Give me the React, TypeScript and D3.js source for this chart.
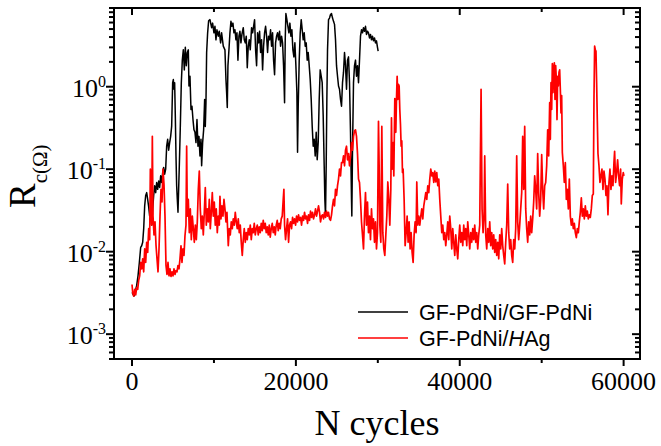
import React from "react";
import * as d3 from "d3";

const W = 661;
const H = 446;
const FRAME = { left: 114, right: 640, top: 8, bottom: 359 };

const xMajorTicks = [0, 20000, 40000, 60000];
const xMinorTicks = [10000, 30000, 50000];
const yDecadeTicks = [1e-3, 1e-2, 1e-1, 1];
const yDecadeExponents = ["-3", "-2", "-1", "0"];
const xTitle = "N cycles";
const legendNames = ["GF-PdNi/GF-PdNi", "GF-PdNi/HAg"];

// GF-PdNi/GF-PdNi : [N cycles, Rc (Ohm)]
const seriesPdNiPdNi: [number, number][] = [
  [0, 0.0032], [244, 0.0029], [406, 0.0033], [569, 0.0039], [731, 0.0051], [894, 0.0074], [1057, 0.0113], [1179, 0.0118],
  [1301, 0.013], [1423, 0.019], [1545, 0.036], [1667, 0.048], [1789, 0.052], [1911, 0.043], [2033, 0.035], [2154, 0.027],
  [2276, 0.03], [2398, 0.021], [2520, 0.033], [2642, 0.048], [2764, 0.063], [2886, 0.052], [3008, 0.069], [3130, 0.057],
  [3252, 0.072], [3374, 0.06], [3496, 0.083], [3618, 0.069], [3740, 0.091], [3862, 0.105], [3984, 0.087], [4106, 0.1],
  [4228, 0.19], [4350, 0.23], [4471, 0.17], [4593, 0.21], [4715, 0.25], [4837, 0.33], [4959, 1.12], [5041, 1.22],
  [5122, 0.93], [5203, 1.12], [5284, 0.44], [5366, 0.145], [5447, 0.063], [5528, 0.043], [5610, 0.03], [5691, 0.057],
  [5772, 0.11], [5894, 0.33], [6016, 1.12], [6138, 2.1], [6260, 2.8], [6382, 1.6], [6504, 3.0], [6626, 1.8],
  [6748, 2.6], [6870, 2.8], [6951, 1.02], [7073, 1.34], [7195, 0.53], [7317, 0.58], [7439, 0.4], [7561, 0.3],
  [7683, 0.28], [7805, 0.21], [7927, 0.4], [8049, 0.19], [8171, 0.25], [8293, 0.145], [8415, 0.23], [8496, 0.11],
  [8618, 0.21], [8740, 0.3], [8862, 0.7], [8943, 0.33], [9024, 0.64], [9106, 2.6], [9228, 4.5], [9350, 6.3],
  [9512, 6.5], [9715, 5.2], [9837, 5.9], [9999, 4.5], [10122, 5.4], [10244, 3.7], [10366, 4.9], [10528, 4.1],
  [10650, 4.7], [10813, 3.4], [10935, 4.5], [11138, 3.1], [11341, 2.8], [11463, 1.22], [11545, 0.85], [11626, 0.56],
  [11707, 1.8], [11829, 2.8], [11951, 4.5], [12073, 6.2], [12195, 5.4], [12317, 5.9], [12439, 4.5], [12561, 4.9],
  [12683, 3.7], [12805, 4.5], [12927, 2.1], [13049, 4.1], [13170, 4.7], [13292, 3.4], [13414, 4.3], [13577, 5.2],
  [13699, 3.7], [13821, 3.4], [13943, 4.1], [14065, 1.7], [14187, 3.1], [14309, 3.7], [14431, 2.8], [14593, 5.2],
  [14715, 4.5], [14837, 5.4], [14959, 6.5], [15081, 2.8], [15203, 1.8], [15325, 4.5], [15447, 3.4], [15569, 4.7],
  [15691, 2.6], [15813, 3.7], [15935, 1.6], [16057, 3.1], [16179, 4.5], [16301, 5.4], [16423, 4.1], [16545, 2.6],
  [16666, 4.1], [16788, 3.7], [16910, 4.9], [17032, 3.1], [17154, 4.5], [17276, 2.1], [17398, 1.4], [17520, 3.4],
  [17642, 4.1], [17764, 4.5], [17886, 3.7], [18008, 4.7], [18130, 3.1], [18252, 4.1], [18374, 3.4], [18496, 1.8],
  [18618, 0.64], [18699, 3.7], [18780, 7.7], [18902, 6.5], [19024, 5.4], [19146, 4.5], [19268, 5.9], [19390, 4.1],
  [19512, 4.9], [19634, 2.8], [19756, 2.3], [19878, 3.4], [20000, 1.8], [20122, 0.85], [20203, 0.16], [20284, 0.58],
  [20406, 2.1], [20528, 4.5], [20650, 6.5], [20772, 4.9], [20894, 3.7], [21016, 4.5], [21138, 3.1], [21260, 3.4],
  [21382, 2.1], [21504, 2.6], [21626, 1.8], [21748, 1.22], [21870, 0.7], [21992, 0.33], [22114, 0.19], [22236, 0.23],
  [22357, 0.145], [22479, 0.28], [22601, 0.13], [22723, 0.21], [22845, 0.7], [22967, 1.6], [23089, 1.34], [23211, 1.12],
  [23333, 0.44], [23455, 0.11], [23536, 0.043], [23617, 0.027], [23698, 0.11], [23780, 0.7], [23861, 2.8], [23983, 6.5],
  [24105, 6.8], [24227, 7.5], [24349, 7.7], [24471, 6.8], [24593, 6.2], [24715, 5.7], [24837, 3.7], [24959, 1.8],
  [25081, 1.34], [25203, 1.02], [25325, 0.93], [25447, 0.7], [25569, 0.58], [25691, 1.12], [25813, 1.5], [25935, 2.6],
  [26057, 1.8], [26179, 0.93], [26301, 2.1], [26423, 2.3], [26545, 1.12], [26666, 0.28], [26788, 0.043], [26829, 0.027],
  [26910, 0.17], [27032, 1.12], [27154, 1.8], [27276, 2.1], [27398, 1.34], [27520, 1.8], [27642, 1.12], [27764, 2.1],
  [27886, 4.1], [28008, 4.9], [28130, 4.5], [28252, 5.2], [28374, 4.7], [28496, 5.4], [28618, 4.3], [28740, 4.7],
  [28861, 4.5], [28983, 3.9], [29105, 4.3], [29227, 3.7], [29349, 4.1], [29471, 3.6], [29593, 3.9], [29715, 3.4],
  [29837, 3.6], [29959, 3.0], [30040, 2.7],
];

// GF-PdNi/HAg : [N cycles, Rc (Ohm)]
const seriesPdNiHAg: [number, number][] = [
  [0, 0.004], [81, 0.0032], [203, 0.0029], [325, 0.0035], [447, 0.003], [569, 0.0037], [691, 0.0035], [813, 0.0045],
  [935, 0.0051], [1057, 0.0074], [1179, 0.0062], [1301, 0.0082], [1423, 0.0057], [1545, 0.0108], [1667, 0.0074], [1789, 0.013],
  [1911, 0.0098], [2033, 0.019], [2154, 0.014], [2236, 0.1], [2317, 0.043], [2398, 0.021], [2479, 0.25], [2561, 0.027],
  [2683, 0.016], [2805, 0.023], [2927, 0.012], [3049, 0.0082], [3171, 0.0057], [3293, 0.0108], [3415, 0.027], [3537, 0.057],
  [3659, 0.04], [3781, 0.1], [3903, 0.065], [4024, 0.027], [4146, 0.0068], [4268, 0.0053], [4390, 0.0074], [4512, 0.0051],
  [4634, 0.0062], [4756, 0.005], [4878, 0.0057], [5000, 0.0051], [5122, 0.0062], [5244, 0.0053], [5366, 0.0059], [5488, 0.0057],
  [5610, 0.0068], [5732, 0.0062], [5854, 0.0082], [5976, 0.0118], [6097, 0.0074], [6219, 0.0108], [6341, 0.009], [6463, 0.0156],
  [6585, 0.021], [6667, 0.19], [6748, 0.027], [6870, 0.043], [6992, 0.017], [7114, 0.033], [7236, 0.014], [7358, 0.027],
  [7480, 0.019], [7602, 0.013], [7724, 0.021], [7846, 0.014], [7968, 0.023], [8089, 0.057], [8211, 0.095], [8333, 0.033],
  [8455, 0.019], [8577, 0.027], [8699, 0.016], [8821, 0.03], [8943, 0.06], [9065, 0.021], [9187, 0.033], [9309, 0.023],
  [9431, 0.043], [9553, 0.019], [9675, 0.03], [9797, 0.052], [9918, 0.027], [10040, 0.04], [10162, 0.021], [10284, 0.033],
  [10406, 0.017], [10528, 0.027], [10650, 0.021], [10732, 0.047], [10854, 0.025], [10976, 0.036], [11098, 0.027], [11220, 0.043],
  [11341, 0.033], [11463, 0.023], [11585, 0.03], [11748, 0.0118], [11870, 0.019], [11992, 0.016], [12114, 0.023], [12236, 0.019],
  [12358, 0.025], [12480, 0.021], [12602, 0.03], [12724, 0.023], [12846, 0.019], [12968, 0.025], [13089, 0.017], [13211, 0.021],
  [13333, 0.013], [13455, 0.009], [13577, 0.014], [13699, 0.019], [13821, 0.013], [13943, 0.017], [14065, 0.014], [14187, 0.019],
  [14309, 0.016], [14431, 0.021], [14553, 0.014], [14675, 0.019], [14797, 0.017], [14919, 0.022], [15041, 0.016], [15163, 0.019],
  [15285, 0.021], [15407, 0.016], [15529, 0.02], [15651, 0.017], [15772, 0.022], [15894, 0.018], [16016, 0.024], [16138, 0.019],
  [16260, 0.022], [16382, 0.017], [16504, 0.02], [16626, 0.016], [16748, 0.021], [16870, 0.015], [16992, 0.019], [17114, 0.022],
  [17236, 0.017], [17358, 0.02], [17479, 0.016], [17601, 0.021], [17723, 0.024], [17845, 0.018], [17967, 0.022], [18089, 0.019],
  [18211, 0.025], [18333, 0.027], [18455, 0.043], [18536, 0.057], [18618, 0.021], [18740, 0.014], [18862, 0.019], [18984, 0.025],
  [19106, 0.013], [19228, 0.021], [19350, 0.023], [19471, 0.019], [19593, 0.026], [19715, 0.022], [19837, 0.025], [19959, 0.021],
  [20081, 0.027], [20203, 0.023], [20325, 0.028], [20447, 0.024], [20569, 0.026], [20691, 0.021], [20813, 0.027], [20935, 0.024],
  [21057, 0.03], [21179, 0.025], [21301, 0.027], [21423, 0.022], [21545, 0.028], [21667, 0.024], [21789, 0.031], [21911, 0.026],
  [22033, 0.03], [22154, 0.025], [22276, 0.028], [22398, 0.033], [22520, 0.027], [22642, 0.031], [22764, 0.036], [22886, 0.03],
  [23008, 0.023], [23130, 0.027], [23252, 0.028], [23374, 0.025], [23496, 0.03], [23618, 0.026], [23740, 0.031], [23861, 0.027],
  [23983, 0.03], [24105, 0.025], [24227, 0.024], [24349, 0.028], [24471, 0.036], [24593, 0.043], [24715, 0.036], [24837, 0.057],
  [24959, 0.048], [25081, 0.063], [25203, 0.076], [25325, 0.1], [25447, 0.083], [25569, 0.12], [25691, 0.12], [25813, 0.145],
  [25935, 0.11], [26057, 0.17], [26179, 0.19], [26301, 0.13], [26423, 0.155], [26545, 0.11], [26666, 0.145], [26788, 0.21],
  [26910, 0.17], [27032, 0.25], [27154, 0.29], [27276, 0.3], [27398, 0.25], [27520, 0.155], [27642, 0.076], [27764, 0.069],
  [27886, 0.043], [28008, 0.023], [28130, 0.016], [28252, 0.0108], [28374, 0.027], [28496, 0.052], [28618, 0.021], [28740, 0.04],
  [28861, 0.017], [28983, 0.027], [29105, 0.014], [29227, 0.033], [29349, 0.019], [29471, 0.025], [29593, 0.013], [29715, 0.023],
  [29837, 0.0108], [29959, 0.017], [30081, 0.38], [30162, 0.11], [30244, 0.021], [30366, 0.013], [30488, 0.33], [30610, 0.017],
  [30731, 0.0108], [30853, 0.009], [30976, 0.016], [31098, 0.027], [31220, 0.07], [31342, 0.043], [31464, 0.021], [31586, 0.057],
  [31667, 0.42], [31748, 0.1], [31870, 0.21], [31951, 0.083], [32073, 0.72], [32195, 0.28], [32277, 0.7], [32358, 1.34],
  [32439, 0.7], [32520, 1.07], [32602, 1.02], [32683, 0.53], [32764, 0.35], [32846, 0.19], [32927, 0.22], [33008, 0.091],
  [33090, 0.1], [33211, 0.043], [33333, 0.0118], [33455, 0.017], [33577, 0.027], [33699, 0.013], [33821, 0.023], [33943, 0.0108],
  [34065, 0.017], [34187, 0.0098], [34309, 0.0074], [34431, 0.016], [34553, 0.023], [34675, 0.017], [34756, 0.07], [34878, 0.021],
  [35000, 0.027], [35122, 0.021], [35244, 0.027], [35366, 0.033], [35488, 0.025], [35610, 0.036], [35732, 0.043], [35854, 0.052],
  [35976, 0.043], [36098, 0.063], [36220, 0.052], [36342, 0.076], [36464, 0.1], [36586, 0.083], [36707, 0.091], [36830, 0.069],
  [36951, 0.095], [37073, 0.07], [37195, 0.091], [37317, 0.063], [37439, 0.076], [37561, 0.043], [37683, 0.027], [37805, 0.017],
  [37927, 0.021], [38049, 0.014], [38171, 0.017], [38293, 0.0118], [38414, 0.016], [38536, 0.023], [38658, 0.014], [38780, 0.027],
  [38902, 0.019], [39024, 0.0108], [39146, 0.019], [39268, 0.013], [39390, 0.009], [39512, 0.016], [39634, 0.0108], [39756, 0.0082],
  [39878, 0.014], [40000, 0.021], [40122, 0.013], [40244, 0.017], [40366, 0.0118], [40488, 0.021], [40610, 0.014], [40731, 0.019],
  [40853, 0.0118], [40975, 0.023], [41097, 0.016], [41219, 0.0108], [41341, 0.017], [41463, 0.013], [41585, 0.019], [41707, 0.014],
  [41829, 0.021], [41951, 0.013], [42073, 0.017], [42195, 0.0108], [42317, 0.016], [42439, 0.021], [42602, 0.93], [42724, 0.033],
  [42846, 0.017], [42968, 0.027], [43049, 0.145], [43171, 0.016], [43293, 0.0108], [43415, 0.019], [43537, 0.013], [43659, 0.023],
  [43780, 0.0118], [43902, 0.017], [44024, 0.0108], [44146, 0.016], [44268, 0.0098], [44390, 0.014], [44512, 0.009], [44634, 0.013],
  [44756, 0.0082], [44878, 0.016], [45000, 0.0108], [45122, 0.019], [45244, 0.0118], [45366, 0.009], [45488, 0.0071], [45610, 0.013],
  [45732, 0.021], [45854, 0.066], [45976, 0.017], [46098, 0.0108], [46220, 0.014], [46342, 0.009], [46463, 0.0074], [46585, 0.014],
  [46707, 0.0108], [46829, 0.019], [46951, 0.145], [47073, 0.023], [47195, 0.014], [47317, 0.021], [47439, 0.033], [47561, 0.052],
  [47683, 0.25], [47805, 0.057], [47927, 0.33], [48049, 0.033], [48171, 0.019], [48293, 0.013], [48415, 0.023], [48537, 0.016],
  [48658, 0.027], [48780, 0.017], [48902, 0.025], [49024, 0.04], [49146, 0.083], [49268, 0.057], [49390, 0.033], [49512, 0.155],
  [49634, 0.052], [49756, 0.027], [49878, 0.043], [50000, 0.15], [50122, 0.057], [50244, 0.033], [50366, 0.063], [50488, 0.069],
  [50610, 0.11], [50732, 0.3], [50854, 0.145], [50976, 0.64], [51057, 0.23], [51138, 1.12], [51220, 0.53], [51301, 1.9],
  [51382, 0.85], [51463, 1.6], [51545, 1.95], [51626, 0.7], [51707, 1.8], [51789, 1.22], [51870, 0.4], [51951, 1.34],
  [52033, 1.02], [52114, 1.5], [52195, 1.6], [52276, 0.93], [52358, 0.48], [52439, 0.78], [52520, 0.16], [52642, 0.11],
  [52764, 0.069], [52886, 0.12], [53008, 0.043], [53130, 0.057], [53252, 0.033], [53374, 0.076], [53496, 0.027], [53618, 0.021],
  [53740, 0.025], [53862, 0.019], [53984, 0.022], [54106, 0.017], [54228, 0.0148], [54350, 0.019], [54472, 0.017], [54594, 0.023],
  [54716, 0.03], [54838, 0.045], [54960, 0.027], [55082, 0.033], [55203, 0.025], [55325, 0.036], [55447, 0.027], [55569, 0.031],
  [55691, 0.025], [55813, 0.028], [55935, 0.026], [56057, 0.033], [56179, 0.048], [56301, 0.05], [56382, 0.7], [56463, 3.1],
  [56545, 2.8], [56626, 2.7], [56707, 1.12], [56788, 0.4], [56870, 0.155], [56992, 0.11], [57114, 0.069], [57236, 0.083],
  [57358, 0.1], [57480, 0.057], [57602, 0.095], [57724, 0.076], [57846, 0.048], [57968, 0.063], [58090, 0.028], [58211, 0.069],
  [58333, 0.1], [58455, 0.057], [58577, 0.083], [58699, 0.063], [58821, 0.12], [58902, 0.165], [59024, 0.069], [59146, 0.091],
  [59268, 0.13], [59390, 0.083], [59512, 0.063], [59634, 0.1], [59715, 0.038], [59837, 0.076], [59959, 0.091], [60040, 0.083],
];

const serif = "'Liberation Serif', 'Times New Roman', Times, serif";
const sans = "'Liberation Sans', Arial, Helvetica, sans-serif";

export default function App() {
  const x = d3.scaleLinear().domain([-2200, 62000]).range([FRAME.left, FRAME.right]);
  const y = d3.scaleLog().domain([5e-4, 9]).range([FRAME.bottom, FRAME.top]);
  const line = d3
    .line<[number, number]>()
    .x((d) => x(d[0]))
    .y((d) => y(d[1]));

  const yMinor: number[] = [];
  [1e-4, 1e-3, 1e-2, 1e-1, 1].forEach((dec) => {
    for (let k = 2; k <= 9; k++) {
      const v = k * dec;
      if (v >= 5e-4 && v <= 9) yMinor.push(v);
    }
  });

  const majorLen = 8;
  const minorLen = 5;

  return (
    <svg
      width={W}
      height={H}
      viewBox={`0 0 ${W} ${H}`}
      style={{ position: "absolute", left: 0, top: 0, background: "#fff" }}
    >
      <rect x={0} y={0} width={W} height={H} fill="#fff" />
      <defs>
        <clipPath id="plotclip">
          <rect x={FRAME.left} y={FRAME.top} width={FRAME.right - FRAME.left} height={FRAME.bottom - FRAME.top} />
        </clipPath>
      </defs>

      <g clipPath="url(#plotclip)" fill="none" strokeLinejoin="round">
        <path d={line(seriesPdNiPdNi) || ""} stroke="#000" strokeWidth={1.5} />
        <path d={line(seriesPdNiHAg) || ""} stroke="#ff0000" strokeWidth={1.7} />
      </g>

      {/* frame */}
      <rect
        x={FRAME.left}
        y={FRAME.top}
        width={FRAME.right - FRAME.left}
        height={FRAME.bottom - FRAME.top}
        fill="none"
        stroke="#000"
        strokeWidth={2}
      />

      {/* ticks */}
      <g stroke="#000" strokeWidth={2}>
        {xMajorTicks.map((t) => (
          <g key={"xm" + t}>
            <line x1={x(t)} x2={x(t)} y1={FRAME.bottom} y2={FRAME.bottom + 7} />
            <line x1={x(t)} x2={x(t)} y1={FRAME.top} y2={FRAME.top + 7} />
          </g>
        ))}
        {xMinorTicks.map((t) => (
          <g key={"xn" + t}>
            <line x1={x(t)} x2={x(t)} y1={FRAME.bottom} y2={FRAME.bottom + 4} />
            <line x1={x(t)} x2={x(t)} y1={FRAME.top} y2={FRAME.top + 4} />
          </g>
        ))}
        {yDecadeTicks.map((t) => (
          <g key={"ym" + t}>
            <line x1={FRAME.left - majorLen} x2={FRAME.left} y1={y(t)} y2={y(t)} />
            <line x1={FRAME.right - majorLen} x2={FRAME.right} y1={y(t)} y2={y(t)} />
          </g>
        ))}
        {yMinor.map((t) => (
          <g key={"yn" + t}>
            <line x1={FRAME.left - minorLen} x2={FRAME.left} y1={y(t)} y2={y(t)} />
            <line x1={FRAME.right - minorLen} x2={FRAME.right} y1={y(t)} y2={y(t)} />
          </g>
        ))}
      </g>

      {/* x tick labels */}
      {xMajorTicks.map((t) => (
        <text
          key={"xl" + t}
          x={x(t)}
          y={390}
          fontFamily={serif}
          fontSize={26}
          textAnchor="middle"
          fill="#000"
        >
          {String(t)}
        </text>
      ))}

      {/* y tick labels */}
      {yDecadeTicks.map((t, i) => (
        <text
          key={"yl" + t}
          x={106}
          y={y(t) + 10}
          fontFamily={serif}
          fontSize={26}
          textAnchor="end"
          fill="#000"
        >
          10
          <tspan fontFamily={serif} fontSize={16} dy={-10}>
            {yDecadeExponents[i]}
          </tspan>
        </text>
      ))}

      {/* axis titles */}
      <text x={377} y={435} fontFamily={serif} fontSize={36} textAnchor="middle" fill="#000">
        {xTitle}
      </text>
      <text transform="translate(35,208) rotate(-90)" fontFamily={serif} fontSize={37} fill="#000">
        R
        <tspan fontFamily={serif} fontSize={21} dy={12}>
          c(Ω)
        </tspan>
      </text>

      {/* legend */}
      <line x1={358} x2={408} y1={312} y2={312} stroke="#000" strokeWidth={1.5} />
      <line x1={358} x2={408} y1={338} y2={338} stroke="#ff0000" strokeWidth={1.5} />
      <text x={419} y={319.5} fontFamily={sans} fontSize={21.5} fill="#000">
        {legendNames[0]}
      </text>
      <text x={419} y={345.5} fontFamily={sans} fontSize={21.5} fill="#000">
        GF-PdNi/<tspan fontStyle="italic">H</tspan>Ag
      </text>
    </svg>
  );
}
